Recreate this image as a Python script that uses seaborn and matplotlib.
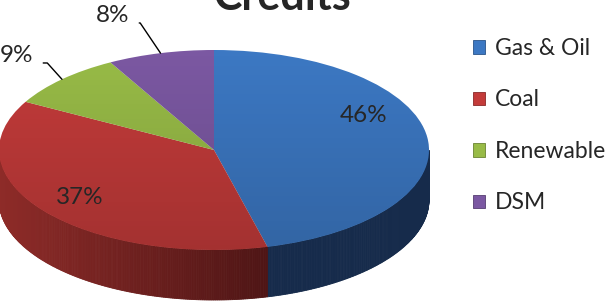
import numpy as np
import matplotlib
matplotlib.use("Agg")
import matplotlib.pyplot as plt
import matplotlib.colors as mcolors
from matplotlib.patches import Polygon, Ellipse, Patch
import seaborn as sns

title = "Credits"
sources = ["Gas & Oil", "Coal", "Renewable", "DSM"]
shares = [46, 37, 9, 8]
top_colors = ["#3C78C3", "#C33B3A", "#98BB47", "#7B58A2"]
side_light = ["#1B3257", "#8E2B28", "#6E8A30", "#57397A"]
side_dark = ["#12233F", "#4E1515", "#4E6420", "#3E2858"]

sns.set_theme(style="white")
plt.rcParams["font.family"] = ["Lato", "DejaVu Sans"]

W, H = 613, 305
# ellipse of the top face, in picture pixels
CX, CY, RX, RY, DEPTH = 214, 150, 215, 100, 50


def px(x, y):
    # picture pixel -> data coords of the pie axes
    return (x - CX) / RX, (CY - y) / RY


def blend(c1, c2, f):
    a, b = np.array(mcolors.to_rgb(c1)), np.array(mcolors.to_rgb(c2))
    return tuple(a + (b - a) * f)


fig = plt.figure(figsize=(W / 100, H / 100), dpi=100)
ax = fig.add_axes([0, 0, 1, 1])

wedges, _ = ax.pie(shares, colors=top_colors, startangle=90, counterclock=False,
                   radius=1, wedgeprops=dict(linewidth=0, zorder=3))

# side wall of the disc, only the front half shows
d = DEPTH / RY
bounds = np.concatenate([[0], np.cumsum(shares)]) / sum(shares) * 360
for i in range(len(shares)):
    a, b = max(bounds[i], 90), min(bounds[i + 1], 270)
    if a >= b:
        continue
    steps = np.linspace(a, b, int(b - a) * 2 + 2)
    for k in range(len(steps) - 1):
        t0, t1 = np.radians(steps[k]), np.radians(steps[k + 1])
        f = (1 - np.sin(t0)) / 2 if i == 1 else 0.5
        f = 1 - (f - 0.37) / 0.63 if i == 1 else f
        col = blend(side_light[i], side_dark[i], np.clip(f, 0, 1))
        pts = [(np.sin(t0), np.cos(t0)), (np.sin(t1), np.cos(t1)),
               (np.sin(t1), np.cos(t1) - d), (np.sin(t0), np.cos(t0) - d)]
        ax.add_patch(Polygon(pts, closed=True, facecolor=col, edgecolor=col,
                             linewidth=0.6, zorder=2))

# soft shading of the top face
grad = np.zeros((100, 1, 4))
grad[..., 3] = np.linspace(0, 0.16, 100)[:, None]
im = ax.imshow(grad, extent=(-1, 1, -1, 1), aspect="auto", origin="upper", zorder=4)
im.set_clip_path(Ellipse((0, 0), 2, 2, transform=ax.transData))

# percentage labels
ax.text(*px(364, 116), f"{shares[0]}%", ha="center", va="center", fontsize=17.5, zorder=6)
ax.text(*px(80, 197), f"{shares[1]}%", ha="center", va="center", fontsize=17.5, zorder=6)

outside = [(2, (33, 55), 132), (3, (129, 15), 124)]
for i, (tx, ty), angle_b in outside:
    mid = np.radians((bounds[i] + bounds[i + 1]) / 2)
    ax.annotate(f"{shares[i]}%", xy=(np.sin(mid), np.cos(mid)), xytext=px(tx, ty),
                ha="right", va="center", fontsize=17.5, zorder=6,
                arrowprops=dict(arrowstyle="-", color="black", lw=1.0, relpos=(1, 0.12),
                                shrinkA=5, shrinkB=0,
                                connectionstyle=f"angle,angleA=0,angleB={angle_b},rad=0"))

ax.set_aspect("auto")
ax.set_xlim((0 - CX) / RX, (W - CX) / RX)
ax.set_ylim((CY - H) / RY, CY / RY)
ax.axis("off")

fig.text(282 / W, 1 - 10 / H, title, ha="center", va="baseline",
         fontsize=31, fontweight="bold")

handles = [Patch(facecolor=c, edgecolor=blend(c, "#000000", 0.3), linewidth=0.6)
           for c in top_colors]
fig.legend(handles, sources, loc="upper left", bbox_to_anchor=(473 / W, 1 - 38 / H),
           frameon=False, fontsize=16.5, handlelength=0.52, handleheight=0.52,
           handletextpad=0.45, labelspacing=1.33, borderpad=0, borderaxespad=0)

fig.savefig("out.png", dpi=100)
